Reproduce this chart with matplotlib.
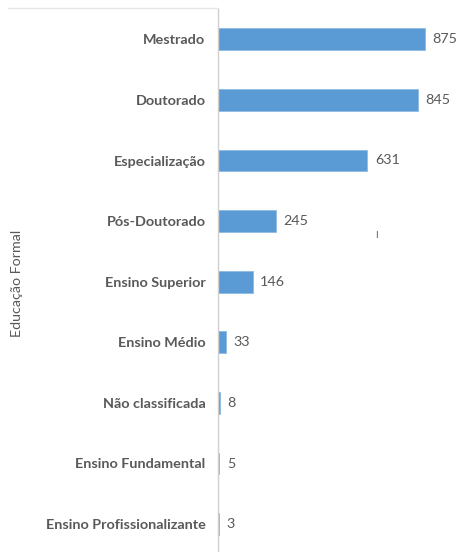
import matplotlib
matplotlib.use("Agg")
import matplotlib.pyplot as plt
from matplotlib.lines import Line2D

# categorias de baixo para cima (ordem do barh)
categorias = ["Ensino Profissionalizante", "Ensino Fundamental", "Não classificada",
              "Ensino Médio", "Ensino Superior", "Pós-Doutorado",
              "Especialização", "Doutorado", "Mestrado"]
valores = [3, 5, 8, 33, 146, 245, 631, 845, 875]

plt.rcParams["font.family"] = ["Lato", "DejaVu Sans"]
W, H = 459, 552
fig = plt.figure(figsize=(W / 100, H / 100), dpi=100)
ax = fig.add_axes([218 / W, (552 - 554.4) / H, 241 / W, 545.4 / H])

ax.barh(range(len(categorias)), valores, height=0.36, color="#5b9bd5",
        edgecolor="#8fbbe3", linewidth=0.6)
for i, v in enumerate(valores):
    ax.text(v + 32, i, str(v), va="center", ha="left", fontsize=10.3, color="#595959")

ax.set_xlim(0, 1018)
ax.set_ylim(-0.5, len(categorias) - 0.5)
ax.set_yticks(range(len(categorias)))
ax.set_yticklabels(categorias, fontsize=10.4, fontweight="bold", color="#595959")
ax.tick_params(axis="y", length=0, pad=9)
ax.set_xticks([])
for s in ["top", "right", "bottom"]:
    ax.spines[s].set_visible(False)
ax.spines["left"].set_color("#d0d0d0")
ax.spines["left"].set_linewidth(1.0)

fig.text(17 / W, 1 - 283 / H, "Educação Formal", rotation=90, va="center", ha="center",
         fontsize=10.3, color="#595959")
fig.text(376 / W, 1 - 236 / H, "I", va="center", ha="center", fontsize=7, color="#595959")
fig.add_artist(Line2D([8 / W, 218 / W], [1 - 8 / H, 1 - 8 / H], color="#e6e6e6",
                      linewidth=1.0, transform=fig.transFigure))

fig.savefig("out.png", dpi=100)
